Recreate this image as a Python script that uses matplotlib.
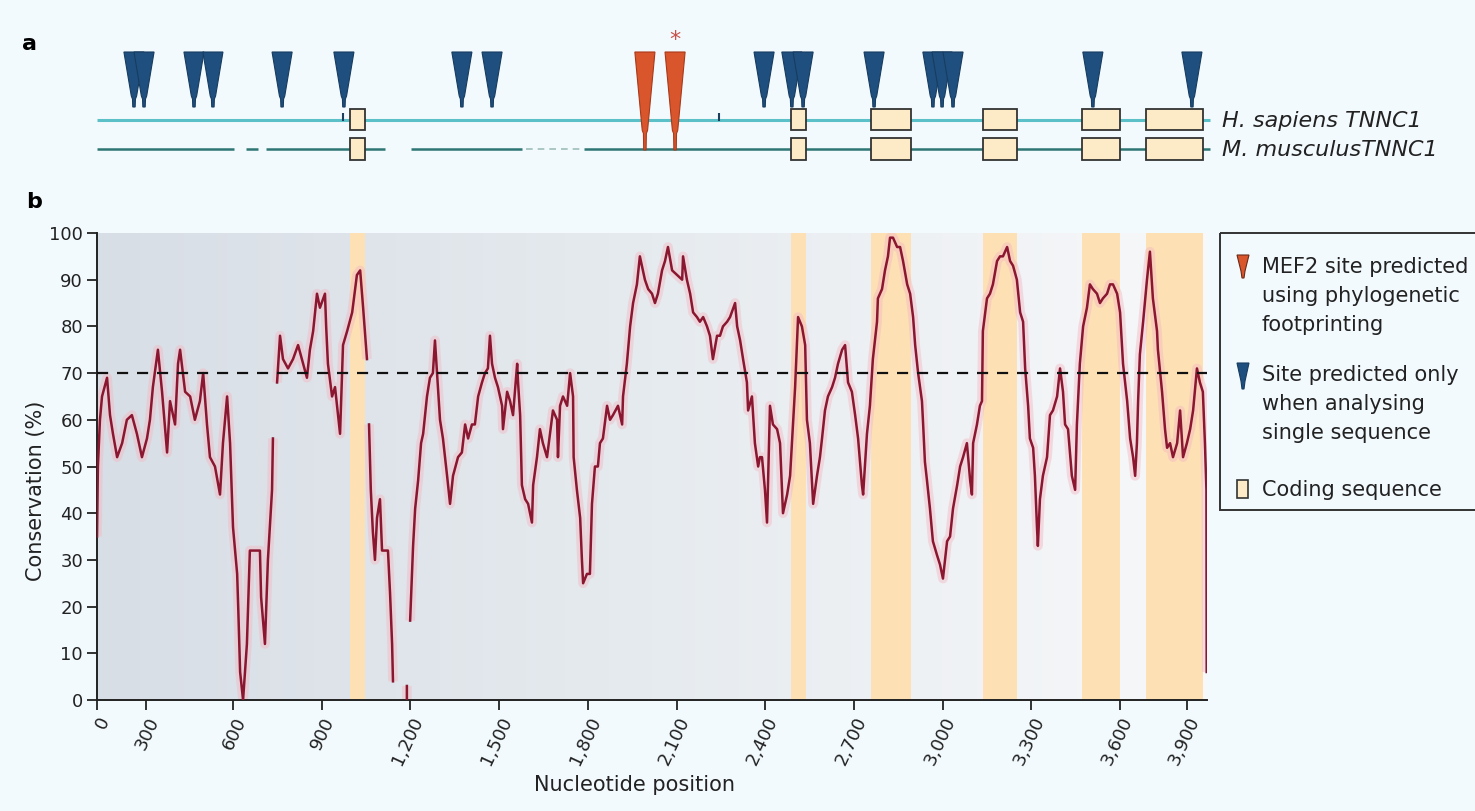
import numpy as np
import matplotlib
matplotlib.use("Agg")
import matplotlib.pyplot as plt
from matplotlib.patches import Rectangle, Polygon
from matplotlib.colors import LinearSegmentedColormap

plt.rcParams['font.family'] = ['DejaVu Sans']

nan = np.nan
# ---------------- data ----------------
position = [
    140, 143, 150, 157, 174, 184, 194, 208, 225, 241,
    258, 275, 292, 309, 319, 329, 346, 360, 377, 387,
    404, 414, 421, 438, 455, 471, 488, 499, 512, 522,
    539, 556, 566, 580, 590, 600, 614, 618, 624, 634,
    647, 657, 691, 695, 708, 718, 732, 735, nan, 749,
    759, 769, 786, 803, 820, 837, 850, 860, 871, 884,
    894, 911, 915, 921, 935, 945, 962, 972, 986, 1003,
    1019, 1030, 1040, 1053, nan, 1060, 1066, 1073, 1080, 1087,
    1097, 1104, 1124, 1131, 1138, 1141, nan, 1188, 1188, nan,
    1199, 1209, 1216, 1226, 1236, 1243, 1256, 1266, 1276, 1283,
    1290, 1300, 1310, 1324, 1334, 1344, 1361, 1374, 1385, 1395,
    1408, 1418, 1429, 1442, 1452, 1462, 1469, 1476, 1486, 1496,
    1510, 1513, 1527, 1537, 1547, 1561, 1564, 1571, 1577, 1588,
    1598, 1611, 1615, 1628, 1638, 1648, 1662, 1672, 1682, 1696,
    1699, 1706, 1716, 1730, 1740, 1750, 1752, 1763, 1774, 1780,
    1784, 1797, 1807, 1814, 1824, 1834, 1841, 1851, 1865, 1875,
    1885, 1902, 1916, 1919, 1932, 1943, 1953, 1966, 1976, 1993,
    2004, 2017, 2027, 2037, 2051, 2061, 2071, 2085, 2102, 2119,
    2122, 2135, 2146, 2156, 2169, 2179, 2190, 2203, 2213, 2223,
    2237, 2247, 2257, 2271, 2281, 2298, 2305, 2315, 2325, 2338,
    2342, 2355, 2365, 2376, 2382, 2389, 2399, 2406, 2416, 2426,
    2440, 2450, 2460, 2474, 2484, 2491, 2501, 2511, 2524, 2535,
    2541, 2551, 2562, 2575, 2585, 2592, 2602, 2612, 2626, 2636,
    2646, 2660, 2670, 2680, 2693, 2704, 2714, 2727, 2731, 2744,
    2754, 2764, 2778, 2781, 2795, 2805, 2815, 2822, 2832, 2846,
    2856, 2866, 2880, 2890, 2900, 2907, 2917, 2930, 2934, 2940,
    2947, 2957, 2967, 2981, 2991, 3001, 3015, 3025, 3035, 3049,
    3059, 3069, 3082, 3093, 3099, 3103, 3116, 3126, 3133, 3136,
    3150, 3160, 3170, 3184, 3194, 3204, 3218, 3228, 3238, 3251,
    3262, 3272, 3279, 3289, 3295, 3306, 3312, 3319, 3322, 3329,
    3339, 3353, 3363, 3373, 3387, 3397, 3407, 3414, 3424, 3437,
    3448, 3454, 3464, 3475, 3488, 3498, 3508, 3522, 3532, 3542,
    3556, 3566, 3576, 3590, 3600, 3610, 3624, 3634, 3644, 3651,
    3657, 3661, 3667, 3678, 3691, 3701, 3711, 3725, 3728, 3742,
    3752, 3759, 3769, 3779, 3793, 3803, 3813, 3826, 3837, 3847,
    3860, 3870, 3880, 3887, 3892, 3893,
]
conservation = [
    35, 50, 60, 65, 69, 61, 57, 52, 55, 60,
    61, 57, 52, 56, 60, 67, 75, 66, 53, 64,
    59, 72, 75, 66, 65, 60, 64, 70, 59, 52,
    50, 44, 55, 65, 55, 37, 27, 19, 6, 0,
    12, 32, 32, 22, 12, 30, 45, 56, nan, 68,
    78, 73, 71, 73, 76, 72, 69, 75, 79, 87,
    84, 87, 80, 72, 65, 67, 57, 76, 79, 83,
    91, 92, 84, 73, nan, 59, 45, 36, 30, 39,
    43, 32, 32, 23, 12, 4, nan, 0, 3, nan,
    17, 33, 41, 47, 55, 57, 65, 69, 70, 77,
    70, 60, 56, 48, 42, 48, 52, 53, 59, 56,
    59, 59, 65, 68, 70, 71, 78, 72, 69, 67,
    63, 58, 66, 64, 61, 72, 68, 61, 46, 43,
    42, 38, 46, 52, 58, 55, 52, 57, 62, 60,
    52, 63, 65, 63, 70, 65, 52, 45, 39, 30,
    25, 27, 27, 42, 50, 50, 55, 56, 63, 60,
    61, 63, 59, 65, 72, 80, 85, 89, 95, 90,
    88, 87, 85, 87, 92, 94, 97, 92, 91, 90,
    95, 90, 87, 83, 82, 81, 82, 80, 78, 73,
    78, 78, 80, 81, 82, 85, 80, 77, 73, 68,
    62, 65, 55, 50, 52, 52, 45, 38, 63, 59,
    58, 55, 40, 44, 48, 56, 67, 82, 80, 76,
    60, 55, 42, 48, 52, 56, 62, 65, 67, 69,
    72, 75, 76, 68, 66, 61, 56, 46, 44, 57,
    63, 73, 81, 86, 88, 92, 95, 99, 99, 97,
    97, 94, 89, 87, 82, 76, 70, 64, 59, 51,
    47, 41, 34, 31, 29, 26, 34, 35, 41, 46,
    50, 52, 55, 47, 44, 55, 59, 63, 64, 79,
    86, 87, 89, 94, 95, 95, 97, 94, 93, 90,
    83, 81, 71, 63, 56, 54, 48, 37, 33, 43,
    48, 52, 61, 62, 65, 71, 66, 59, 58, 48,
    45, 59, 72, 80, 84, 89, 88, 87, 85, 86,
    87, 89, 89, 87, 83, 72, 64, 56, 52, 48,
    55, 64, 74, 81, 90, 96, 86, 79, 75, 66,
    58, 54, 55, 52, 55, 62, 52, 55, 58, 62,
    71, 68, 66, 55, 45, 6,
]
threshold = 70

exon_start = [995, 2487, 2758, 3136, 3471, 3687]
exon_end = [1046, 2538, 2893, 3251, 3600, 3880]

single_sites = [265, 299, 468, 532, 766, 975, 1374, 1476, 2396, 2490,
                2528, 2768, 2967, 2998, 3035, 3508, 3843]
mef2_sites = [1993, 2095]
starred_site = 2095
minor_marks = [972, 2244]

mouse_seg_start = [140, 644, 712, 1202, 1787]
mouse_seg_end = [603, 685, 1114, 1577, 3904]
mouse_faint_start = [1591]
mouse_faint_end = [1777]
gene_end = 3904

xtick_pos = [140, 306, 600, 900, 1200, 1500, 1800, 2100, 2400, 2700,
             3000, 3300, 3600, 3826]
xtick_labels = ['0', '300', '600', '900', '1,200', '1,500', '1,800', '2,100',
                '2,400', '2,700', '3,000', '3,300', '3,600', '3,900']
yticks = list(range(0, 101, 10))

legend_lines = [['MEF2 site predicted', 'using phylogenetic', 'footprinting'],
                ['Site predicted only', 'when analysing', 'single sequence'],
                ['Coding sequence']]
species = ['H. sapiens TNNC1', 'M. musculusTNNC1']

# ---------------- styles ----------------
W, H = 1475, 811
BG = '#f3fafd'
BLUE = '#1f4f7e'
RED = '#d9552c'
LINE = '#8a1630'
EXON_FC = '#fdebc8'
BAND = '#fde1b4'

fig = plt.figure(figsize=(W / 100, H / 100), dpi=100)
fig.patch.set_facecolor(BG)

X0, X1 = 140, 3894

# ---------------- panel b ----------------
ax = fig.add_axes([97 / W, 1 - 700 / H, 1110 / W, 467 / H])
ax.set_xlim(X0, X1)
ax.set_ylim(0, 100)
cmap = LinearSegmentedColormap.from_list('bg', ['#d8dee6', '#e6ebef', '#f7f8fa'])
grad = np.linspace(0, 1, 256).reshape(1, -1)
ax.imshow(grad, extent=[X0, X1, 0, 100], aspect='auto', cmap=cmap, zorder=0)
for s, e in zip(exon_start, exon_end):
    ax.axvspan(s, e, color=BAND, lw=0, zorder=1)
ax.plot(position, conservation, color='#f3b8c2', lw=7, alpha=0.45, zorder=2,
        solid_capstyle='butt')
ax.plot(position, conservation, color=LINE, lw=1.8, zorder=3)
ax.axhline(threshold, color='#111111', lw=1.6, ls=(0, (5, 4)), zorder=4)

for sp in ['top', 'right']:
    ax.spines[sp].set_visible(False)
for sp in ['left', 'bottom']:
    ax.spines[sp].set_linewidth(1.4)
    ax.spines[sp].set_color('#222222')
ax.set_yticks(yticks)
ax.set_yticklabels([str(v) for v in yticks])
ax.set_xticks(xtick_pos)
ax.set_xticklabels(xtick_labels, rotation=65, ha='right', rotation_mode='anchor')
ax.tick_params(axis='both', direction='out', length=7, width=1.3,
               labelsize=13, colors='#222222', pad=3)

fig.text(36 / W, 1 - 491 / H, 'Conservation (%)', rotation=90, ha='center',
         va='center', fontsize=15, color='#222222')
fig.text(635 / W, 1 - 785 / H, 'Nucleotide position', ha='center',
         va='center', fontsize=15, color='#222222')

# ---------------- panel a ----------------
axa = fig.add_axes([97 / W, 1 - 170 / H, 1110 / W, 140 / H])
axa.set_xlim(X0, X1)
axa.set_ylim(170, 30)
axa.axis('off')

YH, YM = 119.5, 149
axa.hlines(YH, X0, gene_end, color='#5cc0c8', lw=2.2, clip_on=False, zorder=1)
axa.hlines([YM] * len(mouse_seg_start), mouse_seg_start, mouse_seg_end,
           color='#2d7674', lw=1.8, clip_on=False, zorder=1)
axa.hlines([YM] * len(mouse_faint_start), mouse_faint_start, mouse_faint_end,
           color='#9dbdbb', lw=1.2, linestyles=(0, (4, 3)), zorder=1)
for s, e in zip(exon_start, exon_end):
    axa.add_patch(Rectangle((s, 109), e - s, 21, facecolor=EXON_FC,
                            edgecolor='#333333', lw=1.3, zorder=3, clip_on=False))
    axa.add_patch(Rectangle((s, 138), e - s, 22, facecolor=EXON_FC,
                            edgecolor='#333333', lw=1.3, zorder=3, clip_on=False))


def wedge(x, tip_y):
    mid = 52 + (tip_y - 52) * 0.8
    return [(x - 34, 52), (x + 34, 52), (x + 9, mid), (x + 5, mid + 3),
            (x + 4, tip_y), (x - 4, tip_y), (x - 5, mid + 3), (x - 9, mid)]


for x in single_sites:
    axa.add_patch(Polygon(wedge(x, 107), closed=True, facecolor=BLUE,
                          edgecolor='#173c60', lw=0.8, zorder=4))
for x in mef2_sites:
    axa.add_patch(Polygon(wedge(x, 150), closed=True, facecolor=RED,
                          edgecolor='#a8391a', lw=0.8, zorder=4))
axa.text(starred_site, 40, '*', color='#c9504a', fontsize=16, ha='center',
         va='center')
axa.vlines(minor_marks, 113, 121, color='#1d3f5e', lw=1.5, zorder=2)

for i, name in enumerate(species):
    fig.text(1222 / W, 1 - (121 + 29 * i) / H, name, fontsize=16,
             style='italic', ha='left', va='center', color='#222222')

fig.text(30 / W, 1 - 44 / H, 'a', fontsize=16, weight='bold', ha='center',
         va='center')
fig.text(34 / W, 1 - 202 / H, 'b', fontsize=16, weight='bold', ha='center',
         va='center')

# ---------------- legend ----------------
ov = fig.add_axes([0, 0, 1, 1], zorder=10)
ov.set_xlim(0, W)
ov.set_ylim(H, 0)
ov.axis('off')
ov.patch.set_alpha(0)
ov.add_patch(Rectangle((1220, 233), 300, 277, fill=False, edgecolor='#333333',
                       lw=1.4))


def icon(cx, top, h):
    return [(cx - 6, top), (cx + 6, top), (cx + 2, top + h * 0.7),
            (cx + 1, top + h), (cx - 1, top + h), (cx - 2, top + h * 0.7)]


ov.add_patch(Polygon(icon(1243, 255, 23), closed=True, facecolor=RED,
                     edgecolor='#6b2a1a', lw=0.8))
ov.add_patch(Polygon(icon(1243, 363, 26), closed=True, facecolor=BLUE,
                     edgecolor='#173c60', lw=0.8))
ov.add_patch(Rectangle((1237, 480), 11, 18, facecolor=EXON_FC,
                       edgecolor='#333333', lw=1.2))
for lines, y in zip(legend_lines, [267, 375, 490]):
    for j, line in enumerate(lines):
        ov.text(1262, y + 29 * j, line, fontsize=15, ha='left',
                va='center', color='#222222')

fig.savefig('out.png', dpi=100, facecolor=BG)
